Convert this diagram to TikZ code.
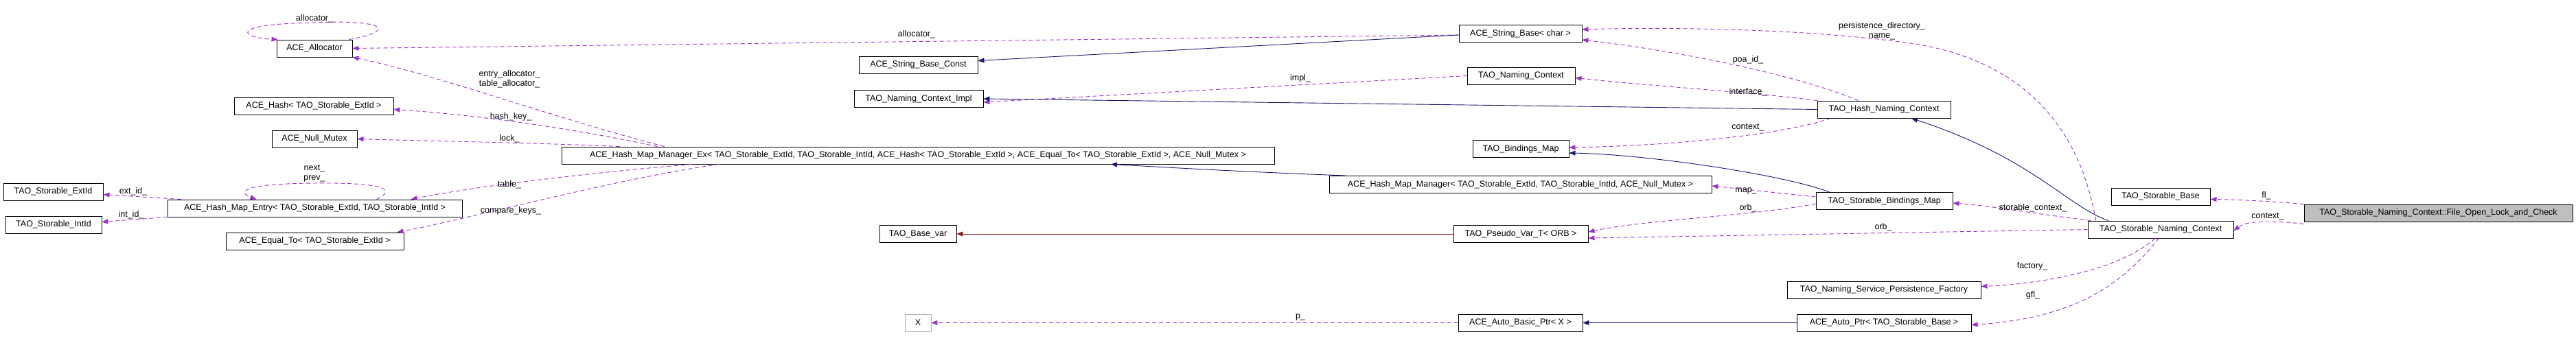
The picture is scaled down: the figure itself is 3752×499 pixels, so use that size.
\documentclass[tikz,border=0pt]{standalone}
\usepackage{fontspec}
\setmainfont{Liberation Sans}
\usetikzlibrary{arrows.meta}
\definecolor{usecol}{HTML}{9A32CD}
\definecolor{inhcol}{HTML}{191970}
\definecolor{tplcol}{HTML}{8B1A1A}
\begin{document}
\begin{tikzpicture}[x=1pt,y=-1pt,
  box/.style={draw=black,line width=0.9pt,fill=white,minimum height=25pt,inner xsep=2pt,inner ysep=0pt,font=\fontsize{12.5}{14}\selectfont},
  grey/.style={box,draw=black!30},
  lbl/.style={font=\fontsize{12.5}{14}\selectfont,inner sep=0pt,align=center},
  use/.style={draw=usecol,line width=0.9pt,dash pattern=on 6pt off 4pt,-{Triangle[length=9pt,width=7pt]}},
  inh/.style={draw=inhcol,line width=0.9pt,-{Triangle[length=9pt,width=7pt]}},
  tpl/.style={draw=tplcol,line width=0.9pt,-{Triangle[length=9pt,width=7pt]}}]
\useasboundingbox (0,0) rectangle (3752,499);
\node[box,minimum width=110pt] (alloc) at (458,70.5) {ACE\_Allocator};
\node[box,minimum width=232pt] (hash) at (457,154.5) {ACE\_Hash< TAO\_Storable\_ExtId >};
\node[box,minimum width=124pt] (nullm) at (458,202.5) {ACE\_Null\_Mutex};
\node[box,minimum width=1038pt] (mgrex) at (1337,226.5) {ACE\_Hash\_Map\_Manager\_Ex< TAO\_Storable\_ExtId, TAO\_Storable\_IntId, ACE\_Hash< TAO\_Storable\_ExtId >, ACE\_Equal\_To< TAO\_Storable\_ExtId >, ACE\_Null\_Mutex >};
\node[box,minimum width=145pt] (extid) at (77.5,279.5) {TAO\_Storable\_ExtId};
\node[box,minimum width=140pt] (intid) at (78,327.5) {TAO\_Storable\_IntId};
\node[box,minimum width=429pt] (entry) at (458.5,303.5) {ACE\_Hash\_Map\_Entry< TAO\_Storable\_ExtId, TAO\_Storable\_IntId >};
\node[box,minimum width=259pt] (equal) at (458.5,351.5) {ACE\_Equal\_To< TAO\_Storable\_ExtId >};
\node[box,minimum width=173pt] (sbc) at (1337.5,94.5) {ACE\_String\_Base\_Const};
\node[box,minimum width=188pt] (impl) at (1338,144) {TAO\_Naming\_Context\_Impl};
\node[box,minimum width=112pt] (basevar) at (1337,341) {TAO\_Base\_var};
\node[grey,minimum width=38pt] (X) at (1337,470.5) {X};
\node[box,minimum width=179pt] (strbase) at (2214.5,49) {ACE\_String\_Base< char >};
\node[box,minimum width=157pt] (tnc) at (2215.5,110.5) {TAO\_Naming\_Context};
\node[box,minimum width=194pt] (hnc) at (2744,159.5) {TAO\_Hash\_Naming\_Context};
\node[box,minimum width=140pt] (bmap) at (2215,217) {TAO\_Bindings\_Map};
\node[box,minimum width=557pt] (hmm) at (2214.5,269) {ACE\_Hash\_Map\_Manager< TAO\_Storable\_ExtId, TAO\_Storable\_IntId, ACE\_Null\_Mutex >};
\node[box,minimum width=199pt] (sbm) at (2744.5,293) {TAO\_Storable\_Bindings\_Map};
\node[box,minimum width=196pt] (pvar) at (2215,341) {TAO\_Pseudo\_Var\_T< ORB >};
\node[box,minimum width=282pt] (factory) at (2744,422.5) {TAO\_Naming\_Service\_Persistence\_Factory};
\node[box,minimum width=181pt] (abp) at (2214.5,470.5) {ACE\_Auto\_Basic\_Ptr< X >};
\node[box,minimum width=254pt] (autoptr) at (2744,470.5) {ACE\_Auto\_Ptr< TAO\_Storable\_Base >};
\node[box,minimum width=144pt] (storbase) at (3147,286.5) {TAO\_Storable\_Base};
\node[box,minimum width=391pt,fill=black!25] (fol) at (3551.5,310.5) {TAO\_Storable\_Naming\_Context::File\_Open\_Lock\_and\_Check};
\node[box,minimum width=212pt] (snc) at (3147,334.5) {TAO\_Storable\_Naming\_Context};

% self loops
\draw[use] ([xshift=-5pt]alloc.north east) .. controls (580,45) and (560,28) .. (458,33) .. controls (330,35) and (350,55) .. ([xshift=2pt]alloc.north west);
\node[lbl] (lalloc1) at (458,27) {allocator\_};
\draw[use] ([xshift=-40pt]entry.north) ++(130,0) .. controls (580,275) and (555,266) .. (458,267) .. controls (340,268) and (350,282) .. ([xshift=-85pt]entry.north);
\node[lbl] (lnext) at (458,253) {next\_\\prev\_};

% mgrex usages
\draw[use] ([xshift=150pt]mgrex.north west) .. controls (800,170) and (640,110) .. (alloc.south east);
\node[lbl] (lea) at (742,115) {entry\_allocator\_\\table\_allocator\_};
\draw[use] ([xshift=140pt]mgrex.north west) .. controls (800,180) and (660,165) .. ([yshift=-5pt]hash.east);
\node[lbl] (lhk) at (744,170) {hash\_key\_};
\draw[use] ([xshift=85pt]mgrex.north west) .. controls (780,208) and (600,205) .. (nullm.east);
\node[lbl] (llock) at (742,202) {lock\_};
\draw[use] ([xshift=190pt]mgrex.south west) .. controls (880,250) and (700,270) .. ([xshift=-75pt]entry.north east);
\node[lbl] (ltable) at (742,269) {table\_};
\draw[use] ([xshift=230pt]mgrex.south west) .. controls (900,260) and (700,315) .. ([xshift=-10pt]equal.north east);
\node[lbl] (lck) at (744,307) {compare\_keys\_};
\draw[use] ([xshift=20pt]entry.north west) -- ([yshift=-4pt]extid.east);
\node[lbl] (lext) at (194,279) {ext\_id\_};
\draw[use] (entry.south west) -- ([yshift=4pt]intid.east);
\node[lbl] (lint) at (191,313) {int\_id\_};

% top area
\draw[use] ([yshift=-2pt]strbase.west) -- (alloc.east);
\node[lbl] (lalloc2) at (1335,50) {allocator\_};
\draw[inh] ([yshift=-2pt]strbase.west) -- ([yshift=6pt]sbc.east);
\draw[use] (tnc.west) -- ([yshift=-5pt]impl.east);
\node[lbl] (limpl) at (1894,114) {impl\_};
\draw[inh] (hnc.west) -- (impl.east);
\draw[use] ([xshift=60pt]hnc.north west) .. controls (2620,110) and (2450,75) .. ([yshift=-9pt]strbase.east);
\node[lbl] (lpoa) at (2546,87) {poa\_id\_};
\draw[use] (hnc.north west) .. controls (2560,135) and (2400,125) .. ([yshift=-3pt]tnc.east);
\node[lbl] (lif) at (2546,134) {interface\_};
\draw[use] ([xshift=12pt]snc.north west) .. controls (3030,190) and (2950,80) .. (2760,60) .. controls (2600,40) and (2400,40) .. ([yshift=6pt]strbase.east);
\node[lbl] (lpd) at (2741,45) {persistence\_directory\_\\name\_};
\draw[use] ([xshift=20pt]hnc.south west) .. controls (2600,195) and (2450,212) .. ([yshift=2pt]bmap.east);
\node[lbl] (lctx) at (2546,186) {context\_};
\draw[inh] ([xshift=20pt]sbm.north west) .. controls (2600,255) and (2400,225) .. ([yshift=-6pt]bmap.east);
\draw[use] ([yshift=6pt]sbm.west) -- ([yshift=-2pt]hmm.east);
\node[lbl] (lmap) at (2543,278) {map\_};
\draw[use] ([yshift=-4pt]sbm.west) .. controls (2550,315) and (2400,320) .. ([yshift=3pt]pvar.east);
\node[lbl] (lorb1) at (2546,303) {orb\_};
\draw[use] (snc.west) -- ([yshift=-6pt]pvar.east);
\node[lbl] (lorb2) at (2743,331) {orb\_};
\draw[inh] ([xshift=30pt]snc.north west) .. controls (3010,300) and (2960,230) .. ([xshift=40pt]hnc.south);
\draw[use] ([xshift=5pt]snc.north west) .. controls (2950,310) and (2900,300) .. ([yshift=-3pt]sbm.east);
\node[lbl] (lsc) at (2961,303) {storable\_context\_};
\draw[inh] ([xshift=25pt]hmm.north west) .. controls (1800,250) and (1700,244) .. ([xshift=281pt]mgrex.south);
\draw[tpl] (pvar.west) -- (basevar.east);

% bottom
\draw[use] ([xshift=-8pt]snc.south) .. controls (3080,400) and (2950,415) .. ([yshift=5pt]factory.east);
\node[lbl] (lfac) at (2960,388) {factory\_};
\draw[use] ([xshift=-3pt]snc.south) .. controls (3080,430) and (3000,465) .. ([yshift=-3pt]autoptr.east);
\node[lbl] (lgfl) at (2961,430) {gfl\_};
\draw[use] (abp.west) -- (X.east);
\node[lbl] (lp) at (1894,462) {p\_};
\draw[inh] (autoptr.west) -- (abp.east);

% right
\draw[use] (fol.north west) .. controls (3300,293) and (3260,291) .. ([yshift=-4pt]storbase.east);
\node[lbl] (lfl) at (3301,285) {fl\_};
\draw[use] ([yshift=-3pt]fol.south west) .. controls (3300,320) and (3270,323) .. ([yshift=-2pt]snc.east);
\node[lbl] (lctx2) at (3303,316) {context\_};
\end{tikzpicture}
\end{document}
